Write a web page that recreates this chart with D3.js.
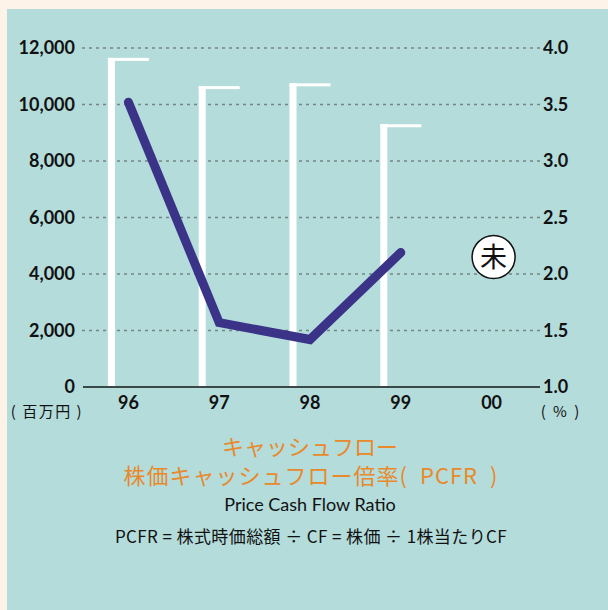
<!DOCTYPE html>
<html>
<head>
<meta charset="utf-8">
<script src="https://cdn.jsdelivr.net/npm/d3@7"></script>
<style>
  body { margin: 0; background: #fdf3e8; }
  svg { display: block; }
</style>
</head>
<body>
<div id="chart"></div>
<script>
// data
var years = ["96", "97", "98", "99", "00"];
var cashFlow = [11650, 10650, 10750, 9300];   // 百万円 (bars)
var pcfr = [3.52, 1.57, 1.42, 2.19];           // 倍率 (line)
var leftTicks = [0, 2000, 4000, 6000, 8000, 10000, 12000];
var rightTicks = [1.0, 1.5, 2.0, 2.5, 3.0, 3.5, 4.0];
var pendingYear = "00";
var pendingLevel = 2.15;

var svgWidth = 608;
var svgHeight = 610;

var svg = d3.select("#chart")
    .append("svg")
    .attr("width", svgWidth)
    .attr("height", svgHeight);

// teal panel
svg.append("rect")
    .attr("x", 7)
    .attr("y", 9)
    .attr("width", svgWidth - 7)
    .attr("height", svgHeight - 9)
    .attr("fill", "#b3dcdb");

var numFont = "Lato, 'Noto Sans', sans-serif";
var jpFont = "'Noto Sans CJK JP', 'Noto Sans', sans-serif";

// scales
var xScale = d3.scaleBand()
    .domain(years)
    .range([83, 537])
    .paddingInner(0)
    .paddingOuter(0);

var yLeft = d3.scaleLinear()
    .domain([0, 12000])
    .range([387, 48]);

var yRight = d3.scaleLinear()
    .domain([1, 4])
    .range([387, 48]);

var cx = d => xScale(d) + xScale.bandwidth() / 2;

// dotted grid lines
svg.append("g")
    .selectAll("line")
    .data(leftTicks.slice(1))
    .enter()
    .append("line")
    .attr("x1", 82)
    .attr("x2", 540)
    .attr("y1", d => yLeft(d))
    .attr("y2", d => yLeft(d))
    .attr("stroke", "#758585")
    .attr("stroke-width", 1.3)
    .attr("stroke-dasharray", "3,4");

// left axis labels
var leftAxis = d3.axisLeft(yLeft)
    .tickValues(leftTicks)
    .tickFormat(d3.format(","))
    .tickSize(0)
    .tickPadding(0);

var leftG = svg.append("g")
    .attr("transform", "translate(75,0)")
    .call(leftAxis);
leftG.select(".domain").remove();
leftG.selectAll("text")
    .attr("font-family", numFont)
    .attr("font-weight", "bold")
    .attr("font-size", 18)
    .attr("fill", "#111");

// right axis labels
var rightAxis = d3.axisRight(yRight)
    .tickValues(rightTicks)
    .tickFormat(d3.format(".1f"))
    .tickSize(0)
    .tickPadding(0);

var rightG = svg.append("g")
    .attr("transform", "translate(543,0)")
    .call(rightAxis);
rightG.select(".domain").remove();
rightG.selectAll("text")
    .attr("font-family", numFont)
    .attr("font-weight", "bold")
    .attr("font-size", 18)
    .attr("fill", "#111");

// bars drawn as white brackets (left side + top)
var barW = 41;
var bars = svg.append("g")
    .selectAll("g")
    .data(cashFlow)
    .enter()
    .append("g");

bars.append("rect")
    .attr("x", (d, i) => cx(years[i]) - barW / 2)
    .attr("y", d => yLeft(d))
    .attr("width", 7)
    .attr("height", d => yLeft(0) - yLeft(d))
    .attr("fill", "#ffffff");

bars.append("rect")
    .attr("x", (d, i) => cx(years[i]) - barW / 2)
    .attr("y", d => yLeft(d))
    .attr("width", barW)
    .attr("height", 3)
    .attr("fill", "#ffffff");

// baseline
svg.append("line")
    .attr("x1", 83)
    .attr("x2", 540)
    .attr("y1", yLeft(0))
    .attr("y2", yLeft(0))
    .attr("stroke", "#3b4848")
    .attr("stroke-width", 2);

// x labels
var bottomAxis = d3.axisBottom(xScale)
    .tickSize(0)
    .tickPadding(0);

var xG = svg.append("g")
    .attr("transform", "translate(0,396)")
    .call(bottomAxis);
xG.select(".domain").remove();
xG.selectAll("text")
    .attr("font-family", numFont)
    .attr("font-weight", "bold")
    .attr("font-size", 18)
    .attr("fill", "#111");

// units
svg.append("text")
    .attr("x", 47)
    .attr("y", 417)
    .attr("text-anchor", "middle")
    .attr("font-family", jpFont)
    .attr("font-size", 15)
    .attr("letter-spacing", 1.5)
    .attr("fill", "#111")
    .text("( 百万円 )");

svg.append("text")
    .attr("x", 561)
    .attr("y", 417)
    .attr("text-anchor", "middle")
    .attr("font-family", jpFont)
    .attr("font-size", 15)
    .attr("letter-spacing", 2)
    .attr("fill", "#111")
    .text("( % )");

// PCFR line
var line = d3.line()
    .x((d, i) => cx(years[i]))
    .y(d => yRight(d));

svg.append("path")
    .datum(pcfr)
    .attr("d", line)
    .attr("fill", "none")
    .attr("stroke", "#3a3387")
    .attr("stroke-width", 9)
    .attr("stroke-linecap", "round")
    .attr("stroke-linejoin", "miter");

// "未" marker for 00
var mark = svg.append("g")
    .attr("transform", `translate(${cx(pendingYear) + 2}, ${yRight(pendingLevel)})`);
mark.append("circle")
    .attr("r", 21.5)
    .attr("fill", "#ffffff")
    .attr("stroke", "#111")
    .attr("stroke-width", 1.5);
mark.append("text")
    .attr("text-anchor", "middle")
    .attr("dy", "0.36em")
    .attr("font-family", jpFont)
    .attr("font-size", 27)
    .attr("fill", "#111")
    .text("未");

// titles
svg.append("text")
    .attr("x", 310)
    .attr("y", 455)
    .attr("text-anchor", "middle")
    .attr("font-family", jpFont)
    .attr("font-size", 22)
    .attr("fill", "#e8892b")
    .text("キャッシュフロー");

svg.append("text")
    .attr("x", 311)
    .attr("y", 484)
    .attr("text-anchor", "middle")
    .attr("font-family", jpFont)
    .attr("font-size", 22)
    .attr("letter-spacing", 1)
    .attr("fill", "#e8892b")
    .text("株価キャッシュフロー倍率(\u2002PCFR\u2002)");

svg.append("text")
    .attr("x", 310)
    .attr("y", 511)
    .attr("text-anchor", "middle")
    .attr("font-family", numFont)
    .attr("font-size", 18)
    .attr("fill", "#111")
    .text("Price Cash Flow Ratio");

svg.append("text")
    .attr("x", 311)
    .attr("y", 543)
    .attr("text-anchor", "middle")
    .attr("font-family", jpFont)
    .attr("font-size", 17)
    .attr("letter-spacing", 0.4)
    .attr("fill", "#111")
    .text("PCFR = 株式時価総額 ÷ CF = 株価 ÷ 1株当たりCF");
</script>
</body>
</html>
